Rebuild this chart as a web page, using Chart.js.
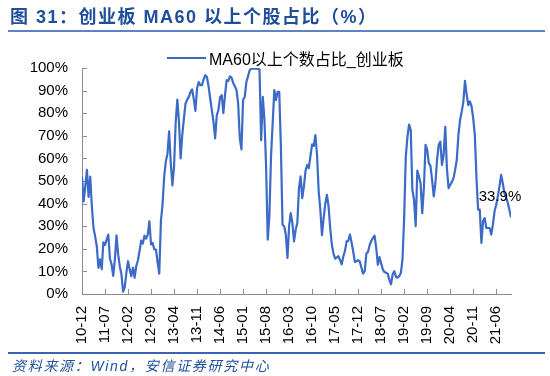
<!DOCTYPE html>
<html>
<head>
<meta charset="utf-8">
<script src="https://cdn.jsdelivr.net/npm/chart.js@4.4.1/dist/chart.umd.min.js"></script>
<style>
  body { margin: 0; width: 550px; height: 376px; background: #fff; position: relative; overflow: hidden;
         font-family: "Liberation Sans", Arial, "Noto Sans CJK SC", sans-serif; }
  #wrap { position: absolute; left: 0; top: 0; width: 550px; height: 376px; }
  #title { position: absolute; left: 10px; top: 7px; font-size: 18px; font-weight: bold; color: #1f4e9a;
           letter-spacing: 1.5px; line-height: 20px; white-space: nowrap; }
  .rule { position: absolute; left: 8px; width: 537px; height: 2px; background: #5f82c4; }
  #legend { position: absolute; left: 167px; top: 48px; height: 20px; display: flex; align-items: center;
            font-size: 16px; color: #000; white-space: nowrap; }
  #legend .swatch { display: inline-block; width: 39px; height: 2px; background: #3b6bc6; margin-right: 3px; }
  #source { position: absolute; left: 12px; top: 358px; font-size: 14px; font-style: italic; color: #1f4e9a;
            letter-spacing: 1.7px; line-height: 16px; white-space: nowrap; }
</style>
</head>
<body>
<div id="wrap"><canvas id="chart"></canvas></div>
<div id="title">图 31：创业板 MA60 以上个股占比（%）</div>
<div class="rule" style="top:30px"></div>
<div id="legend"><span class="swatch"></span>MA60以上个数占比_创业板</div>
<div class="rule" style="top:352px; background:#3a64b0"></div>
<div id="source">资料来源：Wind，安信证券研究中心</div>
<script>
// half-month steps starting 2010-12, one label every 7 months (14 steps)
const tickLabels = ['10-12', '11-07', '12-02', '12-09', '13-04', '13-11', '14-06', '15-01', '15-08', '16-03',
  '16-10', '17-05', '17-12', '18-07', '19-02', '19-09', '20-04', '20-11', '21-06'];
const stepsPerLabel = 14;

// share of ChiNext stocks above MA60 (%)
const ratio = [
  52, 41, 47.6, 54.9, 43, 52, 38.8, 29.2, 25.5, 21.1, 11.6, 15.3, 11, 22.9, 21.7, 24.1, 26.3, 15.6, 13.1, 8,
  15.3, 26, 17.5, 12.3, 8.7, 1, 3, 9.4, 14.5, 10.9, 7.9, 11.6, 7.2, 12.3, 14.8, 18.9, 23.6, 22.3, 25.8, 24.5,
  26.3, 32.2, 21.9, 22.6,
  19.7, 19.7, 14, 9, 32.2, 39.5, 52, 58.6, 62, 72, 58, 48, 56.4, 76, 86, 76.2, 60, 70.3, 77.7, 84.3,
  86, 87.2, 89.4, 90.5, 86.3, 81, 90.9, 93.8, 92.4, 92.4, 95, 96.8, 96, 91.9, 86.5, 81.4, 76.2, 68.9, 79.1, 81.4,
  87.2, 88, 80, 88,
  94.6, 94.3, 96.3, 95.7, 93.4, 91.9, 90.2, 84.3, 69, 64, 85.8, 87.2, 93.8, 96.3, 99, 99.7, 99.7, 99.7, 99.7, 99.7,
  99.3, 68, 87.2, 77, 56.4, 24, 34.4, 60.8, 75.5, 90.2, 85.8, 89.4, 89.4, 65.2, 30.7, 30, 26.3, 16, 30, 35.8,
  31.4, 23.3, 28.5, 31.4,
  46.8, 52, 42.4, 47.6, 54.6, 57.1, 55.7, 61.1, 66.2, 65.5, 70.3, 61.5, 45.4, 37.3, 26, 33.6, 39.8, 43.9, 38.8, 29.2,
  21.9, 17.9, 15.6, 16.2, 16.7, 15, 13.1, 16.7, 19.1, 23.3, 23.5, 26.3, 22.9, 18.8, 14.2, 14.5, 15, 14.4, 11.6, 9,
  10.1, 17.9, 18.6, 21.6,
  23.5, 24.7, 25.8, 20.4, 12.9, 16.3, 13.5, 10.9, 9.7, 9.4, 9, 6.2, 4.3, 8.7, 10.1, 7.6, 7.2, 7.9, 9.3, 15.3,
  33.6, 60.8, 69.6, 75, 72.5, 46.1, 41.7, 30, 54.6, 52, 49, 35.8, 46.8, 66, 64, 57.9, 56.7, 50.5, 43.2, 49,
  59.3, 65.9, 67.4, 57.1,
  61.5, 74, 55.7, 46.8, 48.3, 49.5, 51.2, 54.9, 59.3, 70.3, 76.9, 80.6, 85, 94.3, 88.4, 83.6, 85.2, 83.1, 77.7, 70.3,
  51.2, 37.3, 37.3, 22.6, 32.2, 33.6, 29.2, 29.2, 29.2, 26.3, 30.7, 36.6, 39.5, 43.2, 47.6, 52.7, 49, 44.6, 42.9, 40.5,
  37.3, 33.9
];

const axisColor = '#8c8c8c';
const lineColor = '#3b6bc6';

Chart.defaults.font.family = '"Liberation Sans", Arial, "Noto Sans CJK SC", sans-serif';

// small tick marks pointing into the plot, like the original
const innerTicks = {
  id: 'innerTicks',
  beforeDatasetsDraw(chart) {
    const { ctx, chartArea: a, scales: { x, y } } = chart;
    ctx.save();
    ctx.strokeStyle = axisColor;
    ctx.lineWidth = 1;
    ctx.beginPath();
    y.ticks.forEach(t => {
      const py = Math.round(y.getPixelForValue(t.value)) + 0.5;
      ctx.moveTo(a.left, py);
      ctx.lineTo(a.left + 5, py);
    });
    x.ticks.forEach(t => {
      const px = Math.round(x.getPixelForValue(t.value)) + 0.5;
      ctx.moveTo(px, a.bottom);
      ctx.lineTo(px, a.bottom - 5);
    });
    ctx.stroke();
    ctx.restore();
  }
};

// value label for the latest point
const lastLabel = {
  id: 'lastLabel',
  afterDatasetsDraw(chart) {
    const pts = chart.getDatasetMeta(0).data;
    const p = pts[pts.length - 1];
    const ctx = chart.ctx;
    ctx.save();
    ctx.font = '15px "Liberation Sans", Arial, sans-serif';
    ctx.fillStyle = '#000';
    ctx.textAlign = 'center';
    ctx.textBaseline = 'middle';
    ctx.fillText(ratio[ratio.length - 1].toFixed(1) + '%', p.x - 11, p.y - 21);
    ctx.restore();
  }
};

new Chart(document.getElementById('chart'), {
  type: 'line',
  data: {
    datasets: [{
      label: 'MA60以上个数占比_创业板',
      data: ratio.map((v, i) => ({ x: i, y: v })),
      borderColor: lineColor,
      borderWidth: 2.2,
      borderJoinStyle: 'round',
      pointRadius: 0,
      tension: 0,
      fill: false
    }]
  },
  options: {
    responsive: true,
    maintainAspectRatio: false,
    animation: false,
    layout: { padding: { left: 0, right: 39, top: 68, bottom: 22 } },
    plugins: { legend: { display: false }, tooltip: { enabled: false } },
    scales: {
      x: {
        type: 'linear',
        min: 0,
        max: ratio.length - 1,
        afterFit: s => { s.height = 60; },
        afterBuildTicks: s => { s.ticks = tickLabels.map((_, k) => ({ value: k * stepsPerLabel })); },
        ticks: {
          autoSkip: false,
          maxRotation: 90,
          minRotation: 90,
          padding: 12,
          color: '#000',
          font: { size: 15 },
          callback: v => tickLabels[Math.round(v / stepsPerLabel)]
        },
        grid: { drawOnChartArea: false, drawTicks: false },
        border: { color: axisColor, width: 1 }
      },
      y: {
        min: 0,
        max: 100,
        afterFit: s => { s.width = 82; },
        ticks: {
          stepSize: 10,
          padding: 14,
          color: '#000',
          font: { size: 15 },
          callback: v => v + '%'
        },
        grid: { drawOnChartArea: false, drawTicks: false },
        border: { color: axisColor, width: 1 }
      }
    }
  },
  plugins: [innerTicks, lastLabel]
});
</script>
</body>
</html>
